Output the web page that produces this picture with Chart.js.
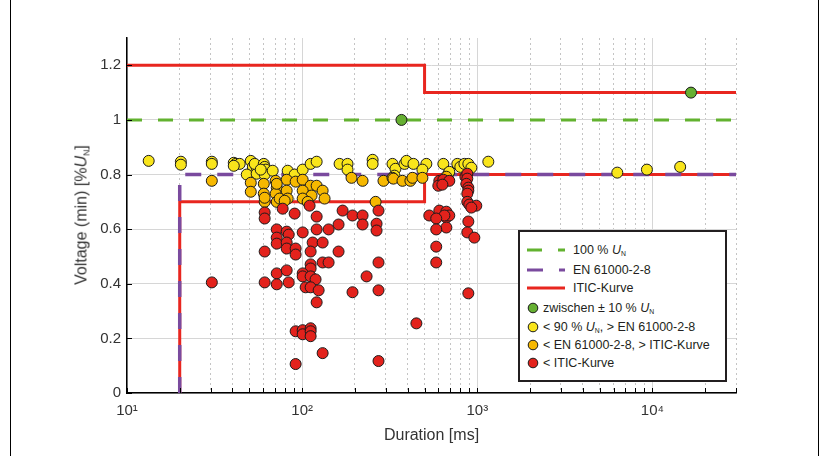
<!DOCTYPE html>
<html>
<head>
<meta charset="utf-8">
<script src="https://cdn.jsdelivr.net/npm/chart.js@4.4.1/dist/chart.umd.min.js"></script>
<style>
body { margin: 0; background: #fff; }
#wrap { position: relative; width: 829px; height: 456px; font-family: "Liberation Sans", Arial, sans-serif; color: #231f20; }
#frame { position: absolute; left: 10px; top: 0; width: 809px; height: 456px; border-left: 1px solid #000; border-right: 1px solid #000; box-sizing: border-box; pointer-events: none; }
#yTitle { position: absolute; left: 82px; top: 215px; transform: translate(-50%, -50%) rotate(-90deg); font-size: 16px; white-space: nowrap; color: #333; }
#yTitle sub, .lg sub { font-size: 0.55em; vertical-align: -0.35em; }
#legendBox { position: absolute; left: 518px; top: 230px; width: 209px; height: 152px; border: 2px solid #231f20; box-sizing: border-box; background: #fff; }
.lg { position: absolute; font-size: 12.5px; line-height: 16px; white-space: nowrap; }
.lg svg { position: absolute; }
</style>
</head>
<body>
<div id="wrap">
  <canvas id="chart" width="829" height="456"></canvas>
  <div id="yTitle">Voltage (min) [%<i>U</i><sub>N</sub>]</div>
  <div id="legendBox"></div>
  <div id="legend"></div>
  <div id="frame"></div>
</div>
<script>
// axis ranges and ticks
const xMin = 10, xMax = 30000;
const xDecades = [10, 100, 1000, 10000];
const xTickLabels = ['10\u00B9', '10\u00B2', '10\u00B3', '10\u2074'];
const xMinors = [20, 30, 40, 50, 60, 70, 80, 90, 200, 300, 400, 500, 600, 700, 800, 900,
                 2000, 3000, 4000, 5000, 6000, 7000, 8000, 9000, 20000, 30000];
const yTicks = [0, 0.2, 0.4, 0.6, 0.8, 1, 1.2];

// limit curves [duration ms, voltage]
const nominalLine = [[10, 1], [30000, 1]];
const enLine = [[20, 0], [20, 0.8], [30000, 0.8]];
const iticUpper = [[10, 1.2], [500, 1.2], [500, 1.1], [30000, 1.1]];
const iticLower = [[20, 0], [20, 0.7], [500, 0.7], [500, 0.8], [30000, 0.8]];

// events [duration ms, min voltage]
const greenPts = [[369, 1.0], [16600, 1.1]];
const yellowPts = [[13.3,0.85],[20.3,0.847],[20.3,0.836],[30.5,0.847],[30.5,0.839],[40.7,0.843],[41.8,0.839],[44,0.839],
  [40.7,0.832],[50.9,0.85],[52.3,0.828],[48.3,0.80],[55,0.825],[55,0.803],[53.6,0.839],[60.4,0.839],[61.1,0.828],
  [62,0.818],[61.1,0.80],[58,0.818],[67.9,0.814],[82.7,0.814],[90.6,0.80],[100.7,0.818],[111.8,0.839],[121,0.847],
  [163.6,0.839],[181.6,0.839],[181.6,0.818],[252.6,0.854],[252.6,0.839],[328,0.839],[341,0.821],[336.5,0.796],
  [384,0.839],[394,0.85],[432,0.839],[512,0.839],[486,0.818],[640,0.839],[769,0.839],[800,0.828],[844,0.839],
  [889,0.839],[925,0.825],[684,0.803],[692,0.81],[1156,0.847],[6300,0.807],[9300,0.818],[14400,0.828]];
const orangePts = [[30.5,0.777],[50.9,0.77],[50.9,0.737],[60.4,0.766],[60.4,0.73],[61.1,0.70],[61.1,0.715],[70.6,0.777],
  [71.6,0.752],[70.6,0.73],[71.6,0.70],[74.4,0.712],[81.6,0.781],[91.8,0.774],[81.6,0.741],[82.7,0.712],[79.5,0.704],
  [100.7,0.781],[111.8,0.759],[121,0.759],[100.7,0.741],[113.2,0.723],[100.7,0.712],[107.5,0.70],[130.9,0.741],
  [134.3,0.712],[191.4,0.788],[221.3,0.777],[291.3,0.777],[328,0.788],[332,0.785],[374,0.777],[415,0.777],
  [426.5,0.788],[486,0.788],[262.7,0.70],[666,0.792],[71.6,0.766]];
const redPts = [[30.5,0.405],[61.1,0.661],[61.1,0.639],[77.4,0.675],[90.6,0.657],[110.3,0.686],[121,0.646],[170.2,0.668],
  [193.9,0.65],[221.3,0.65],[221.3,0.617],[272.9,0.668],[266,0.62],[266,0.595],[161.4,0.617],[141.6,0.599],[121,0.599],
  [100.7,0.588],[71.6,0.599],[81.6,0.591],[83.8,0.58],[71.6,0.569],[71.6,0.547],[81.6,0.551],[81.6,0.529],[91.8,0.529],
  [91.8,0.507],[61.1,0.518],[114.8,0.551],[130.9,0.551],[111.8,0.518],[161.4,0.518],[130.9,0.478],[141.6,0.478],
  [111.8,0.471],[111.8,0.456],[272.9,0.478],[71.6,0.438],[81.6,0.449],[100.7,0.438],[100.7,0.427],[111.8,0.427],
  [119.3,0.416],[233.3,0.427],[61.1,0.405],[71.6,0.398],[83.8,0.405],[104.7,0.387],[111.8,0.387],[124.2,0.376],
  [193.9,0.369],[272.9,0.376],[121,0.332],[91.8,0.226],[100.7,0.23],[100.7,0.215],[111.8,0.237],[111.8,0.226],
  [111.8,0.208],[130.9,0.146],[91.8,0.106],[272.9,0.117],[449,0.255],[889,0.365],
  [607,0.777],[640,0.781],[599,0.759],[692,0.777],[632,0.763],[855,0.792],[877,0.803],[877,0.785],[866,0.766],
  [889,0.752],[889,0.741],[877,0.73],[877,0.70],[900,0.69],[987,0.686],[925,0.679],[532,0.65],[607,0.668],
  [666,0.664],[666,0.642],[692,0.65],[649,0.65],[583,0.639],[666,0.606],[583,0.599],[889,0.628],[877,0.588],
  [962,0.569],[583,0.536],[583,0.478]];

const colGreenLine = '#62b22f', colPurple = '#7a4a9e', colRedLine = '#e8261f';
const colGreen = '#66b032', colYellow = '#f9e51b', colOrange = '#f6b800', colRed = '#e3221c';

const toXY = arr => arr.map(p => ({ x: p[0], y: p[1] }));

function pointSet(label, pts, color) {
  return { label, data: toXY(pts), backgroundColor: color, borderColor: '#1a1a1a', borderWidth: 1,
           pointRadius: 5.5, showLine: false };
}
function lineSet(label, pts, color, width, dash) {
  return { label, data: toXY(pts), borderColor: color, borderWidth: width, borderDash: dash || [],
           showLine: true, pointRadius: 0, fill: false, tension: 0, borderCapStyle: 'butt' };
}

// short tick marks pointing into the plot
const innerTicks = {
  id: 'innerTicks',
  afterDraw(chart) {
    const { ctx, chartArea, scales } = chart;
    ctx.save();
    ctx.strokeStyle = '#000';
    ctx.lineWidth = 1;
    ctx.beginPath();
    xDecades.concat(xMinors).forEach(v => {
      const px = Math.round(scales.x.getPixelForValue(v)) + 0.5;
      ctx.moveTo(px, chartArea.bottom);
      ctx.lineTo(px, chartArea.bottom - 5);
    });
    yTicks.forEach(v => {
      const py = Math.round(scales.y.getPixelForValue(v)) + 0.5;
      ctx.moveTo(chartArea.left, py);
      ctx.lineTo(chartArea.left + 5, py);
    });
    ctx.stroke();
    ctx.restore();
  }
};

new Chart(document.getElementById('chart').getContext('2d'), {
  type: 'scatter',
  data: {
    datasets: [
      pointSet('zwischen ± 10 % UN', greenPts, colGreen),
      pointSet('< ITIC-Kurve', redPts, colRed),
      pointSet('< EN 61000-2-8, > ITIC-Kurve', orangePts, colOrange),
      pointSet('< 90 % UN, > EN 61000-2-8', yellowPts, colYellow),
      lineSet('100 % UN', nominalLine, colGreenLine, 3, [15, 16]),
      lineSet('EN 61000-2-8', enLine, colPurple, 3.5, [16, 16]),
      lineSet('ITIC-Kurve', iticUpper, colRedLine, 3),
      lineSet('ITIC-Kurve', iticLower, colRedLine, 3)
    ]
  },
  options: {
    responsive: false,
    animation: false,
    layout: { padding: { left: 0, top: 38, right: 93, bottom: 0 } },
    plugins: { legend: { display: false }, tooltip: { enabled: false } },
    scales: {
      x: {
        type: 'logarithmic', min: xMin, max: xMax,
        afterBuildTicks: s => { s.ticks = xDecades.map(v => ({ value: v, major: true })); },
        afterFit: s => { s.height = 63; },
        ticks: { callback: (v, i) => xTickLabels[i], padding: 9, color: '#333', maxRotation: 0,
                 font: { family: '"Liberation Sans", Arial, sans-serif', size: 15 } },
        grid: { color: '#d6d6d6', lineWidth: 1, drawTicks: false },
        border: { display: true, color: '#000', width: 1.5 },
        title: { display: true, text: 'Duration [ms]', color: '#333', padding: { top: 0, bottom: 11 },
                 font: { family: '"Liberation Sans", Arial, sans-serif', size: 16 } }
      },
      xMinor: {
        type: 'logarithmic', position: 'bottom', min: xMin, max: xMax,
        afterBuildTicks: s => { s.ticks = xMinors.map(v => ({ value: v })); },
        afterFit: s => { s.height = 0; },
        ticks: { display: false },
        grid: { color: '#c4c4c4', lineWidth: 1, drawTicks: false },
        border: { display: false, dash: [2, 3] }
      },
      y: {
        type: 'linear', min: 0, max: 1.3,
        afterBuildTicks: s => { s.ticks = yTicks.map(v => ({ value: v })); },
        afterFit: s => { s.width = 127; },
        ticks: { callback: v => String(v), padding: 6, color: '#333',
                 font: { family: '"Liberation Sans", Arial, sans-serif', size: 15 } },
        grid: { color: '#d6d6d6', lineWidth: 1, drawTicks: false },
        border: { display: true, color: '#000', width: 1.5 }
      }
    }
  },
  plugins: [innerTicks]
});

// legend with subscripts
const legendRows = [
  { kind: 'line', color: colGreenLine, dash: '15 16', y: 250, html: '100 % <i>U</i><sub>N</sub>' },
  { kind: 'line', color: colPurple, dash: '16 16', y: 270, html: 'EN 61000-2-8' },
  { kind: 'line', color: colRedLine, dash: '', y: 288, html: 'ITIC-Kurve' },
  { kind: 'dot', color: colGreen, y: 308, html: 'zwischen ± 10 % <i>U</i><sub>N</sub>' },
  { kind: 'dot', color: colYellow, y: 327, html: '&lt; 90 % <i>U</i><sub>N</sub>, &gt; EN 61000-2-8' },
  { kind: 'dot', color: colOrange, y: 345, html: '&lt; EN 61000-2-8, &gt; ITIC-Kurve' },
  { kind: 'dot', color: colRed, y: 363, html: '&lt; ITIC-Kurve' }
];
const legend = document.getElementById('legend');
legendRows.forEach(r => {
  const sym = document.createElement('div');
  sym.className = 'lg';
  if (r.kind === 'line') {
    sym.style.left = '527px'; sym.style.top = (r.y - 3) + 'px';
    sym.innerHTML = `<svg width="40" height="6" style="position:static;display:block"><line x1="0" y1="3" x2="38" y2="3" stroke="${r.color}" stroke-width="3" ${r.dash ? `stroke-dasharray="${r.dash}"` : ''}/></svg>`;
  } else {
    sym.style.left = '527px'; sym.style.top = (r.y - 6) + 'px';
    sym.innerHTML = `<svg width="12" height="12" style="position:static;display:block"><circle cx="6" cy="6" r="4.8" fill="${r.color}" stroke="#1a1a1a" stroke-width="1"/></svg>`;
  }
  legend.appendChild(sym);
  const txt = document.createElement('div');
  txt.className = 'lg';
  txt.style.left = (r.kind === 'line' ? 573 : 543) + 'px';
  txt.style.top = (r.y - 8) + 'px';
  txt.innerHTML = r.html;
  legend.appendChild(txt);
});
</script>
</body>
</html>
